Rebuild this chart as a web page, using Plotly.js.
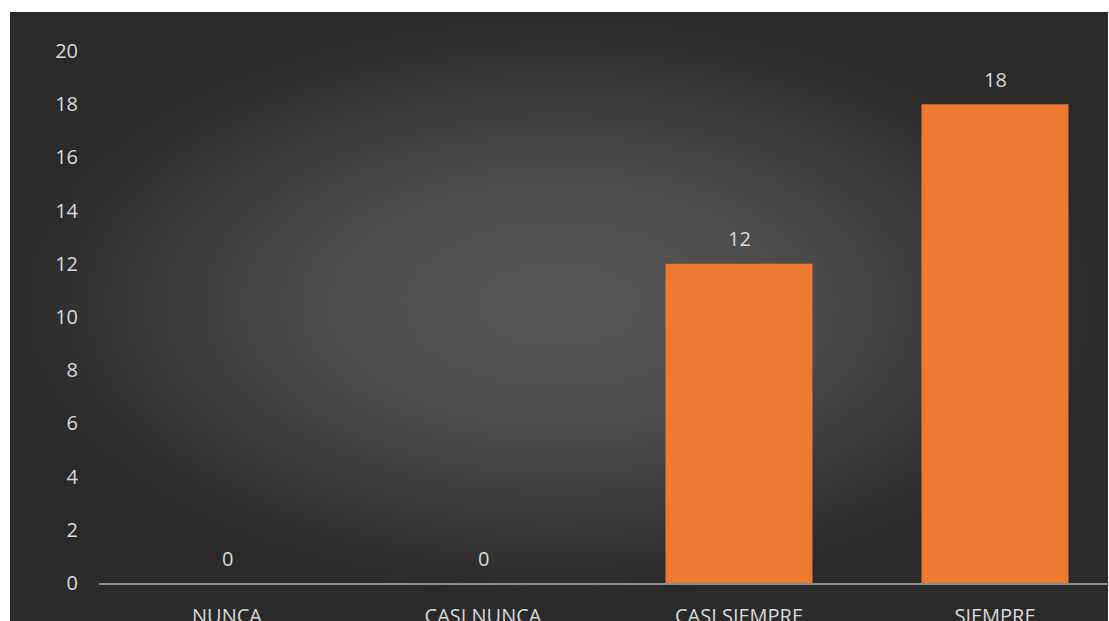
<!DOCTYPE html>
<html>
<head>
<meta charset="utf-8">
<script src="https://cdn.plot.ly/plotly-3.0.1.min.js"></script>
<style>
  html, body { margin: 0; padding: 0; background: #ffffff; overflow: hidden; width: 1109px; height: 621px; }
  #bg { position: absolute; left: 10px; top: 12px; width: 1098px; height: 609px;
        background: radial-gradient(ellipse closest-side at 50% 48%, #595959 0%, #4b4b4b 45%, #2a2a2a 100%); }
  #chart { position: absolute; left: 0; top: 0; width: 1123px; height: 621px; }
</style>
</head>
<body>
<div id="bg"></div>
<div id="chart"></div>
<script>
const categories = ["NUNCA", "CASI NUNCA", "CASI SIEMPRE", "SIEMPRE"];
const values = [0, 0, 12, 18];
const yTicks = [0, 2, 4, 6, 8, 10, 12, 14, 16, 18, 20];

const labelFont = {family: "'Open Sans', Lato, sans-serif", size: 20, color: "#D9D9D9"};

const trace = {
  type: "bar",
  x: categories,
  y: values,
  marker: {color: "#ED7A31", line: {width: 0}},
  hoverinfo: "none"
};

const annotations = categories.map((c, i) => ({
  x: c, y: values[i], xref: "x", yref: "y",
  text: String(values[i]), showarrow: false,
  yanchor: "middle", yshift: 25,
  font: labelFont
}));

const layout = {
  width: 1123, height: 621,
  margin: {l: 99, r: 0, t: 51, b: 38, pad: 0},
  paper_bgcolor: "rgba(0,0,0,0)",
  plot_bgcolor: "rgba(0,0,0,0)",
  bargap: 0.426,
  showlegend: false,
  xaxis: {
    type: "category",
    range: [-0.5, 3.5],
    showgrid: false, zeroline: false,
    showline: true, linecolor: "#8C8C8C", linewidth: 2,
    layer: "below traces",
    ticks: "", ticklabelstandoff: 14,
    tickfont: labelFont
  },
  yaxis: {
    range: [0, 20],
    tickvals: yTicks,
    showgrid: false, zeroline: false, showline: false,
    ticks: "", ticklabelstandoff: 20,
    tickfont: labelFont
  },
  annotations: annotations
};

Plotly.newPlot("chart", [trace], layout, {displayModeBar: false, staticPlot: true});
</script>
</body>
</html>
